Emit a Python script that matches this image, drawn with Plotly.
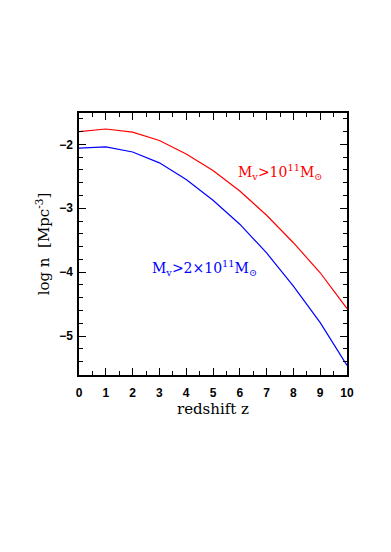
import plotly.graph_objects as go

# redshift grid and log number densities
z = [0, 1, 2, 3, 4, 5, 6, 7, 8, 9, 10]
logn_1e11 = [-1.80, -1.76, -1.81, -1.94, -2.15, -2.41, -2.73, -3.11, -3.54, -4.01, -4.57]
logn_2e11 = [-2.06, -2.04, -2.12, -2.29, -2.55, -2.875, -3.25, -3.70, -4.22, -4.79, -5.46]

label_1e11 = "M<sub>v</sub>&gt;10<sup>11</sup>M<sub>⊙</sub>"
label_2e11 = "M<sub>v</sub>&gt;2×10<sup>11</sup>M<sub>⊙</sub>"

fig = go.Figure()
fig.add_trace(go.Scatter(x=z, y=logn_1e11, mode="lines",
                         line=dict(color="#ff0000", width=1.2)))
fig.add_trace(go.Scatter(x=z, y=logn_2e11, mode="lines",
                         line=dict(color="#0000ff", width=1.2)))

fig.add_annotation(x=7.49, y=-2.44, text=label_1e11, showarrow=False,
                   font=dict(family="DejaVu Serif", size=14, color="#ff0000"))
fig.add_annotation(x=4.69, y=-3.94, text=label_2e11, showarrow=False,
                   font=dict(family="DejaVu Serif", size=14, color="#0000ff"))

axis_common = dict(
    showgrid=False, zeroline=False, showline=True, linecolor="black", linewidth=1.5,
    mirror="allticks", ticks="inside", ticklen=7, tickwidth=1.2, tickcolor="black",
    tickfont=dict(family="Liberation Sans", size=12, color="black", weight="bold"),
)

fig.update_xaxes(range=[0, 10], dtick=1, tick0=0, ticklabelstandoff=6,
                 minor=dict(dtick=0.5, ticks="inside", ticklen=4, tickcolor="black"),
                 title=dict(text="redshift z", standoff=2,
                            font=dict(family="DejaVu Serif", size=15, color="black")),
                 **axis_common)
fig.update_yaxes(range=[-5.61, -1.51], dtick=1, tick0=-5, ticklabelstandoff=2,
                 minor=dict(dtick=0.2, ticks="inside", ticklen=4, tickcolor="black"),
                 title=dict(text="log n  [Mpc<sup>-3</sup>]", standoff=6,
                            font=dict(family="DejaVu Serif", size=15, color="black")),
                 **axis_common)

# the page body adds an 8px offset, so margins are shifted to keep the frame in place
fig.update_layout(
    width=391, height=552,
    margin=dict(l=71, r=52, t=105, b=185),
    paper_bgcolor="white", plot_bgcolor="white",
    showlegend=False,
)

fig.write_html("out.html")
